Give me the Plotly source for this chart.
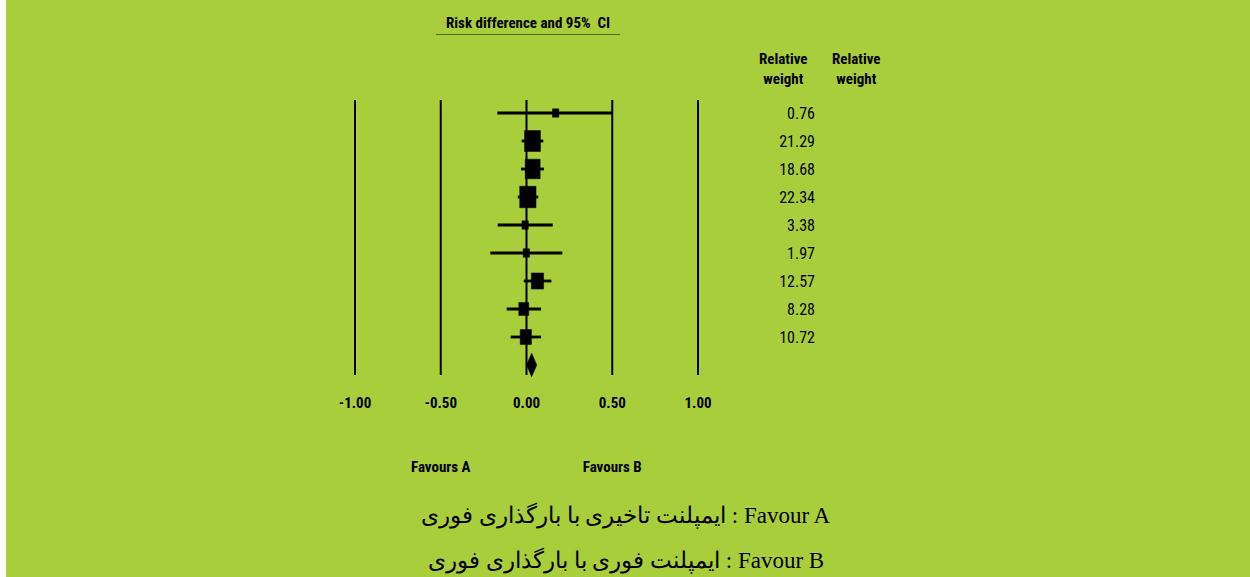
import math
import plotly.graph_objects as go

# ---- data -------------------------------------------------------------
risk_diff = [0.17, 0.035, 0.036, 0.008, -0.008, -0.001, 0.064, -0.016, -0.004]
ci_low = [-0.17, -0.028, -0.032, -0.051, -0.168, -0.211, -0.016, -0.115, -0.092]
ci_high = [0.50, 0.098, 0.102, 0.069, 0.153, 0.209, 0.145, 0.085, 0.085]
rel_weight = [0.76, 21.29, 18.68, 22.34, 3.38, 1.97, 12.57, 8.28, 10.72]

pooled_rd = 0.03
pooled_low = 0.00
pooled_high = 0.06

tick_values = [-1.0, -0.5, 0.0, 0.5, 1.0]
tick_labels = ["-1.00", "-0.50", "0.00", "0.50", "1.00"]

title_text = "Risk difference and 95%  CI"
weight_header = "Relative<br>weight"
favours_labels = ["Favours A", "Favours B"]
favours_positions = [-0.5, 0.5]
legend_lines = [
    "ایمپلنت تاخیری با بارگذاری فوری : Favour A",
    "ایمپلنت فوری با بارگذاری فوری : Favour B",
]

# ---- layout geometry --------------------------------------------------
W, H = 1250, 577
BG = "#A8CE3B"
X0_PX, PX_PER_UNIT = 526.5, 171.5      # pixel of RD = 0 and pixels per unit RD
ROW0_PX, ROW_PX = 113.0, 28.0          # pixel of first row and row spacing

x_range = [(0 - X0_PX) / PX_PER_UNIT, (W - X0_PX) / PX_PER_UNIT]
y_range = [(H - ROW0_PX) / ROW_PX, (0 - ROW0_PX) / ROW_PX]


def row_of(py):
    return (py - ROW0_PX) / ROW_PX


def x_of(px):
    return (px - X0_PX) / PX_PER_UNIT


NARROW = "Liberation Sans Narrow, Arial Narrow, Roboto Condensed, Liberation Sans, sans-serif"
SERIF = "Liberation Serif, Times New Roman, DejaVu Serif, serif"

n = len(risk_diff)
rows = list(range(n))
pooled_row = n

fig = go.Figure()

# confidence interval whiskers
ci_x, ci_y = [], []
for r, lo, hi in zip(rows, ci_low, ci_high):
    ci_x += [lo, hi, None]
    ci_y += [r, r, None]
fig.add_trace(go.Scatter(x=ci_x, y=ci_y, mode="lines",
                         line=dict(color="black", width=2.8),
                         hoverinfo="skip", showlegend=False))

# weighted study boxes (side grows with sqrt of weight)
box_x, box_y = [], []
for r, rd, w in zip(rows, risk_diff, rel_weight):
    side_px = max(6.3, 3.45 * math.sqrt(w))
    hw = side_px / 2 / PX_PER_UNIT
    hh = side_px * 1.32 / 2 / ROW_PX
    box_x += [rd - hw, rd + hw, rd + hw, rd - hw, rd - hw, None]
    box_y += [r - hh, r - hh, r + hh, r + hh, r - hh, None]
fig.add_trace(go.Scatter(x=box_x, y=box_y, mode="lines", fill="toself",
                         fillcolor="black", line=dict(color="black", width=0.5),
                         hoverinfo="skip", showlegend=False))

# pooled estimate diamond
dh = 11.8 / ROW_PX
fig.add_trace(go.Scatter(
    x=[pooled_low, pooled_rd, pooled_high, pooled_rd, pooled_low],
    y=[pooled_row, pooled_row - dh, pooled_row, pooled_row + dh, pooled_row],
    mode="lines", fill="toself", fillcolor="black",
    line=dict(color="black", width=0.5), hoverinfo="skip", showlegend=False))

# vertical reference lines at the tick values
line_top, line_bottom = row_of(100), row_of(375)
for tv in tick_values:
    fig.add_shape(type="line", xref="x", yref="y", x0=tv, x1=tv,
                  y0=line_top, y1=line_bottom,
                  line=dict(color="black", width=2), layer="below")

# tick labels under the lines
fig.add_trace(go.Scatter(x=tick_values, y=[row_of(404)] * len(tick_values),
                         mode="text", text=[f"<b>{t}</b>" for t in tick_labels],
                         textfont=dict(family=NARROW, size=15, color="black"),
                         hoverinfo="skip", showlegend=False))

# relative weight column (right aligned), nudged down to the row centres
text_shift = 2 / ROW_PX
fig.add_trace(go.Scatter(x=[x_of(815)] * n, y=[r + text_shift for r in rows],
                         mode="text",
                         text=[f"{w:.2f}" for w in rel_weight],
                         textposition="middle left",
                         textfont=dict(family=NARROW, size=16, color="black"),
                         hoverinfo="skip", showlegend=False))

# favours labels
fig.add_trace(go.Scatter(x=favours_positions, y=[row_of(468)] * 2, mode="text",
                         text=[f"<b>{t}</b>" for t in favours_labels],
                         textfont=dict(family=NARROW, size=15, color="black"),
                         hoverinfo="skip", showlegend=False))

# title with underline
fig.add_annotation(x=x_of(527.5), y=row_of(23), xref="x", yref="y",
                   text=f"<b>{title_text}</b>", showarrow=False,
                   font=dict(family=NARROW, size=15, color="black"))
fig.add_shape(type="line", xref="x", yref="y", x0=x_of(436), x1=x_of(620),
              y0=row_of(34.5), y1=row_of(34.5),
              line=dict(color="#55652a", width=1))

# weight column headers
for px in (783, 856):
    fig.add_annotation(x=x_of(px), y=row_of(69), xref="x", yref="y",
                       text=f"<b>{weight_header}</b>", showarrow=False,
                       align="center",
                       font=dict(family=NARROW, size=15, color="black"))

# legend explaining the two groups
for py, line in zip((515, 560), legend_lines):
    fig.add_annotation(x=x_of(626), y=row_of(py), xref="x", yref="y",
                       text=line, showarrow=False,
                       font=dict(family=SERIF, size=23, color="black"))

# green background with a thin white strip on the left
fig.add_shape(type="rect", xref="paper", yref="paper",
              x0=6 / W, x1=1, y0=0, y1=1,
              fillcolor=BG, line=dict(width=0), layer="below")

fig.update_layout(
    width=W, height=H,
    margin=dict(l=0, r=0, t=0, b=0),
    paper_bgcolor="white", plot_bgcolor="rgba(0,0,0,0)",
    xaxis=dict(range=x_range, visible=False, fixedrange=True),
    yaxis=dict(range=y_range, visible=False, fixedrange=True),
    showlegend=False,
)

fig.write_html("out.html")
